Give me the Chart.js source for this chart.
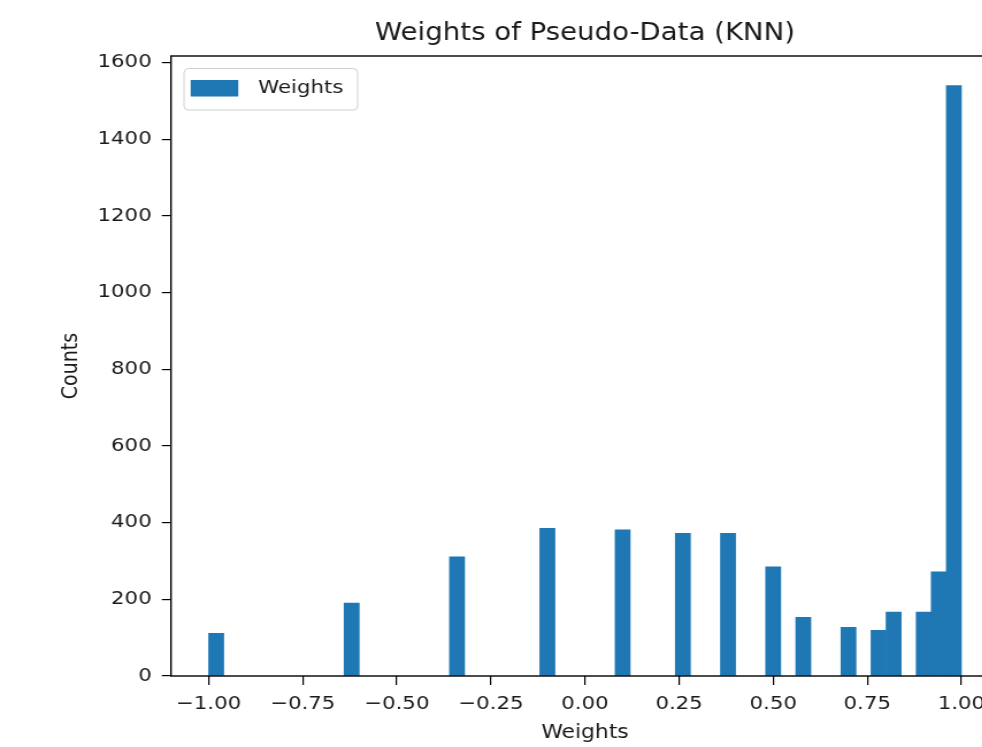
<!DOCTYPE html>
<html>
<head>
<meta charset="utf-8">
<script src="https://cdn.jsdelivr.net/npm/chart.js@4.4.1/dist/chart.umd.min.js"></script>
<style>
  html, body { margin: 0; padding: 0; background: #fff; overflow: hidden; width: 982px; height: 747px; }
  #wrap { position: absolute; left: 0; top: 0; width: 880px; height: 747px; transform: scaleX(1.15); transform-origin: 0 0; }
  canvas { display: block; }
</style>
</head>
<body>
<div id="wrap"><canvas id="c" width="880" height="747"></canvas></div>
<script>
// ---- data ----
const binWidth = 0.04;
const binLeft = [-1.00, -0.64, -0.36, -0.12, 0.08, 0.24, 0.36, 0.48, 0.56, 0.68, 0.76, 0.80, 0.88, 0.92, 0.96];
const counts  = [111, 190, 311, 385, 381, 372, 372, 285, 153, 127, 119, 167, 167, 272, 1540];
const xTicks = [-1.00, -0.75, -0.50, -0.25, 0.00, 0.25, 0.50, 0.75, 1.00];
const yTicks = [0, 200, 400, 600, 800, 1000, 1200, 1400, 1600];
const xRange = [-1.1, 1.1];
const yRange = [0, 1617];
const seriesLabel = 'Weights';
const titleText = 'Weights of Pseudo-Data (KNN)';
const xLabel = 'Weights';
const yLabel = 'Counts';

const FONT = '"DejaVu Sans", "Liberation Sans", sans-serif';
const TXT = '#1a1a1a';
const BLUE = '#1f77b4';

const points = binLeft.map((l, i) => ({ x: l + binWidth / 2, y: counts[i] }));

const framePlugin = {
  id: 'frame',
  afterDatasetsDraw(chart) {
    const { ctx, chartArea: a } = chart;
    ctx.save();
    ctx.strokeStyle = '#000';
    ctx.lineWidth = 1.4;
    ctx.strokeRect(a.left, a.top, a.right - a.left, a.bottom - a.top);
    ctx.restore();
  }
};

const legendPlugin = {
  id: 'mplLegend',
  afterDraw(chart) {
    const { ctx, chartArea: a } = chart;
    const ds = chart.data.datasets[0];
    const x = a.left + 11.3, y = a.top + 12.5, w = 151, h = 41.5, r = 4;
    ctx.save();
    ctx.beginPath();
    ctx.moveTo(x + r, y);
    ctx.lineTo(x + w - r, y); ctx.quadraticCurveTo(x + w, y, x + w, y + r);
    ctx.lineTo(x + w, y + h - r); ctx.quadraticCurveTo(x + w, y + h, x + w - r, y + h);
    ctx.lineTo(x + r, y + h); ctx.quadraticCurveTo(x, y + h, x, y + h - r);
    ctx.lineTo(x, y + r); ctx.quadraticCurveTo(x, y, x + r, y);
    ctx.closePath();
    ctx.fillStyle = 'rgba(255,255,255,0.8)';
    ctx.fill();
    ctx.strokeStyle = '#d0d0d0';
    ctx.lineWidth = 1;
    ctx.stroke();
    ctx.fillStyle = ds.backgroundColor;
    ctx.fillRect(x + 5.8, y + 11.5, 41.4, 16.5);
    ctx.fillStyle = TXT;
    ctx.font = '18.5px ' + FONT;
    ctx.textBaseline = 'middle';
    ctx.textAlign = 'left';
    ctx.fillText(ds.label, x + 64.5, y + 20);
    ctx.restore();
  }
};

const fmtX = v => {
  const s = Math.abs(v) < 1e-9 ? '0.00' : v.toFixed(2);
  return s.replace('-', '\u2212');
};

new Chart(document.getElementById('c'), {
  type: 'bar',
  data: {
    datasets: [{
      label: seriesLabel,
      data: points,
      backgroundColor: BLUE,
      borderWidth: 0,
      barPercentage: 1.0,
      categoryPercentage: 1.0
    }]
  },
  options: {
    responsive: false,
    animation: false,
    devicePixelRatio: 1,
    layout: { padding: { left: 0, right: 11.3, top: 0, bottom: 0 } },
    plugins: {
      legend: { display: false },
      tooltip: { enabled: false },
      title: {
        display: true,
        text: titleText,
        fullSize: false,
        color: TXT,
        font: { family: FONT, size: 24, weight: 'normal', lineHeight: 1.2 },
        padding: { top: 19.5, bottom: 7.7 }
      }
    },
    scales: {
      x: {
        type: 'linear',
        min: xRange[0],
        max: xRange[1],
        offset: false,
        afterFit(s) { s.height = 71; },
        afterBuildTicks(s) { s.ticks = xTicks.map(v => ({ value: v })); },
        grid: { offset: false, drawOnChartArea: false, drawTicks: true, tickLength: 9, color: '#000', lineWidth: 1.2 },
        border: { display: false },
        ticks: {
          autoSkip: false,
          maxRotation: 0,
          padding: 8.5,
          color: TXT,
          font: { family: FONT, size: 18.5 },
          callback: v => fmtX(v)
        },
        title: {
          display: true,
          text: xLabel,
          color: TXT,
          font: { family: FONT, size: 19, lineHeight: 1.2 },
          padding: { top: 0, bottom: 2.1 }
        }
      },
      y: {
        type: 'linear',
        min: yRange[0],
        max: yRange[1],
        afterFit(s) { s.width = 148.7; },
        afterBuildTicks(s) { s.ticks = yTicks.map(v => ({ value: v })); },
        grid: { offset: false, drawOnChartArea: false, drawTicks: true, tickLength: 8, color: '#000', lineWidth: 1.2 },
        border: { display: false },
        ticks: {
          autoSkip: false,
          padding: 8.8,
          color: TXT,
          font: { family: FONT, size: 18.5 },
          callback: v => String(v)
        },
        title: {
          display: true,
          text: yLabel,
          color: TXT,
          font: { family: FONT, size: 19, lineHeight: 1.2 },
          padding: { top: 50.3, bottom: 0 }
        }
      }
    }
  },
  plugins: [framePlugin, legendPlugin]
});
</script>
</body>
</html>
